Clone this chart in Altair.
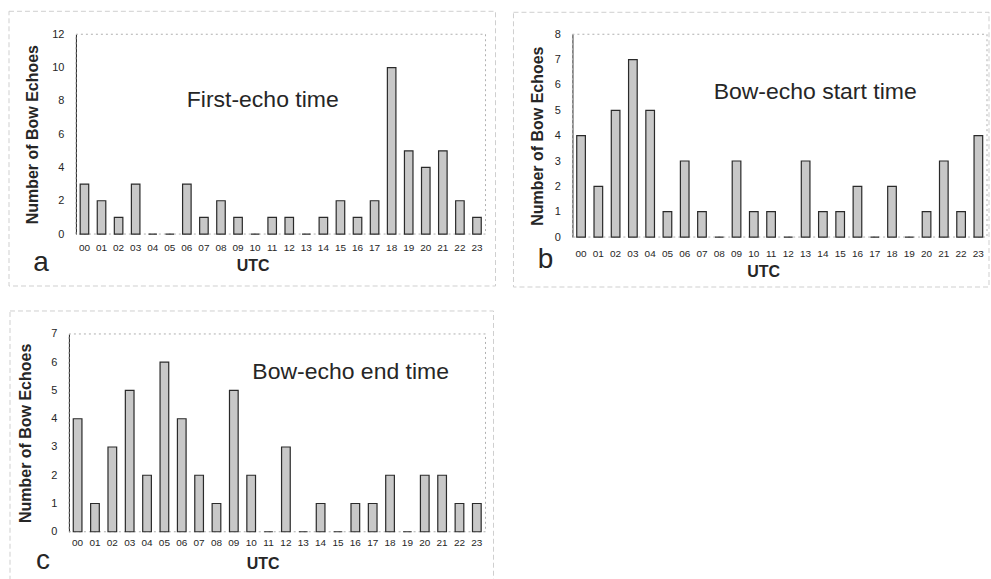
import altair as alt
import pandas as pd

# Hour of day (UTC) and counts of bow echoes per hour
hours = [f"{h:02d}" for h in range(24)]
first_echo = [3, 2, 1, 3, 0, 0, 3, 1, 2, 1, 0, 1, 1, 0, 1, 2, 1, 2, 10, 5, 4, 5, 2, 1]
bow_start = [4, 2, 5, 7, 5, 1, 3, 1, 0, 3, 1, 1, 0, 3, 1, 1, 2, 0, 2, 0, 1, 3, 1, 4]
bow_end = [4, 1, 3, 5, 2, 6, 4, 2, 1, 5, 2, 0, 3, 0, 1, 0, 1, 1, 2, 0, 2, 2, 1, 1]

FONT = "Liberation Sans"
TEXT = "#262626"


def panel(values, label, letter, ymax, width, height, frame, title_xy, letter_xy,
          label_pad, title_pad, xtitle_x, ytitle_x, shift=0):
    """One histogram panel; `shift` moves the plot area left of the view origin."""
    df = pd.DataFrame({"UTC": hours, "count": values})
    bars = alt.Chart(df).mark_bar(
        fill="#c8c8c8", stroke="#2a2a2a", strokeWidth=1.2
    ).encode(
        x=alt.X(
            "UTC:N",
            sort=hours,
            scale=alt.Scale(paddingInner=0.5, paddingOuter=0.25,
                            range=[-shift, width]),
            axis=alt.Axis(
                title="UTC", labelAngle=0, ticks=False, domain=False,
                labelFontSize=10, labelColor=TEXT, labelFont=FONT,
                labelPadding=label_pad, titleFont=FONT, titleFontSize=16,
                titleFontWeight="bold", titleColor=TEXT, titlePadding=title_pad,
                titleX=xtitle_x,
            ),
        ),
        y=alt.Y(
            "count:Q",
            scale=alt.Scale(domain=[0, ymax], nice=False),
            axis=alt.Axis(
                title="Number of Bow Echoes",
                values=list(range(0, ymax + 1, 2 if ymax > 8 else 1)),
                grid=False, ticks=False, domainColor="#222222", domainWidth=1,
                offset=shift,
                labelFontSize=11, labelColor=TEXT, labelFont=FONT, labelPadding=12,
                titleFont=FONT, titleFontSize=16, titleFontWeight="bold",
                titleColor=TEXT, titleX=ytitle_x, titleY=height / 2,
                titleAlign="center", titleBaseline="middle", titleAngle=-90,
            ),
        ),
    )
    one = pd.DataFrame({"k": [0]})
    box = alt.Chart(one).mark_rect(
        fillOpacity=0, stroke="#cfcfcf", strokeWidth=1, strokeDash=[5, 3]
    ).encode(
        x=alt.value(frame[0]), x2=alt.value(frame[1]),
        y=alt.value(frame[2]), y2=alt.value(frame[3]),
    )
    # dotted outline of the plot area (left side is covered by the y axis line)
    area = alt.Chart(one).mark_rect(
        fillOpacity=0, stroke="#b0b0b0", strokeWidth=1, strokeDash=[2, 3]
    ).encode(
        x=alt.value(-shift), x2=alt.value(width),
        y=alt.value(0), y2=alt.value(height),
    )
    title = alt.Chart(one).mark_text(
        font=FONT, fontSize=23, color=TEXT, align="center", baseline="middle"
    ).encode(x=alt.value(title_xy[0]), y=alt.value(title_xy[1]), text=alt.value(label))
    tag = alt.Chart(one).mark_text(
        font=FONT, fontSize=28, color=TEXT, align="center", baseline="middle"
    ).encode(x=alt.value(letter_xy[0]), y=alt.value(letter_xy[1]), text=alt.value(letter))
    return alt.layer(box, area, bars, title, tag).properties(width=width, height=height)


a = panel(first_echo, "First-echo time", "a", 12, 410, 200,
          (-67, 420, -23, 252), (187, 66), (-35, 229), 8, 5,
          xtitle_x=177, ytitle_x=-43)
b = panel(bow_start, "Bow-echo start time", "b", 8, 415, 203,
          (-59, 417, -22, 253), (243, 58), (-27, 226), 11, 5,
          xtitle_x=191, ytitle_x=-35)
c = panel(bow_end, "Bow-echo end time", "c", 7, 410, 198,
          (-66, 418, -23, 248), (275, 38), (-33, 227), 6, 8,
          xtitle_x=187, ytitle_x=-43, shift=7)

chart = alt.vconcat(
    alt.hconcat(a, b, spacing=16),
    c,
    spacing=22,
).properties(
    padding={"left": 8, "top": 10, "right": 1, "bottom": 1},
    background="white",
).configure_view(
    strokeWidth=0
)

chart.save("out.html", embed_options={"renderer": "svg", "actions": False})
